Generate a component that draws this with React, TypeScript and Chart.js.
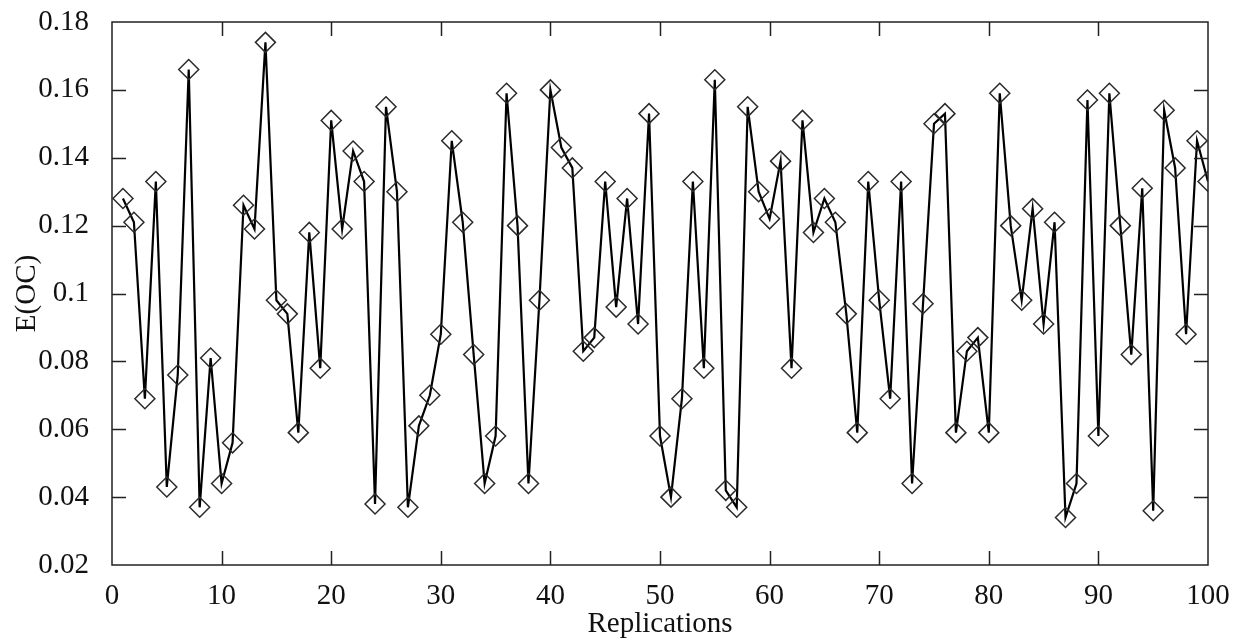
import React, { useEffect, useRef } from "react";
import { Chart, registerables } from "chart.js";

Chart.register(...registerables);

const replications = [
  1, 2, 3, 4, 5, 6, 7, 8, 9, 10, 11, 12, 13, 14, 15, 16, 17, 18, 19, 20,
  21, 22, 23, 24, 25, 26, 27, 28, 29, 30, 31, 32, 33, 34, 35, 36, 37, 38, 39, 40,
  41, 42, 43, 44, 45, 46, 47, 48, 49, 50, 51, 52, 53, 54, 55, 56, 57, 58, 59, 60,
  61, 62, 63, 64, 65, 66, 67, 68, 69, 70, 71, 72, 73, 74, 75, 76, 77, 78, 79, 80,
  81, 82, 83, 84, 85, 86, 87, 88, 89, 90, 91, 92, 93, 94, 95, 96, 97, 98, 99, 100,
];

const eoc = [
  0.128, 0.121, 0.069, 0.133, 0.043, 0.076, 0.166, 0.037, 0.081, 0.044,
  0.056, 0.126, 0.119, 0.174, 0.098, 0.094, 0.059, 0.118, 0.078, 0.151,
  0.119, 0.142, 0.133, 0.038, 0.155, 0.130, 0.037, 0.061, 0.070, 0.088,
  0.145, 0.121, 0.082, 0.044, 0.058, 0.159, 0.120, 0.044, 0.098, 0.160,
  0.143, 0.137, 0.083, 0.087, 0.133, 0.096, 0.128, 0.091, 0.153, 0.058,
  0.040, 0.069, 0.133, 0.078, 0.163, 0.042, 0.037, 0.155, 0.130, 0.122,
  0.139, 0.078, 0.151, 0.118, 0.128, 0.121, 0.094, 0.059, 0.133, 0.098,
  0.069, 0.133, 0.044, 0.097, 0.150, 0.153, 0.059, 0.083, 0.087, 0.059,
  0.159, 0.120, 0.098, 0.125, 0.091, 0.121, 0.034, 0.044, 0.157, 0.058,
  0.159, 0.120, 0.082, 0.131, 0.036, 0.154, 0.137, 0.088, 0.145, 0.133,
];

const xTicks = [0, 10, 20, 30, 40, 50, 60, 70, 80, 90, 100];
const yTicks = [0.02, 0.04, 0.06, 0.08, 0.1, 0.12, 0.14, 0.16, 0.18];

const FONT = "'Liberation Serif', 'DejaVu Serif', serif";
const FONT_SIZE = 29;

const framePlugin = {
  id: "frame",
  afterDatasetsDraw(chart: any) {
    const { ctx, chartArea: a, scales } = chart;
    const x = scales.x;
    const y = scales.y;
    const L = 14;
    ctx.save();
    ctx.strokeStyle = "#222";
    ctx.lineWidth = 1.5;
    ctx.strokeRect(a.left, a.top, a.right - a.left, a.bottom - a.top);
    ctx.beginPath();
    xTicks.slice(1, -1).forEach((v) => {
      const px = Math.round(x.getPixelForValue(v)) + 0.5;
      ctx.moveTo(px, a.bottom);
      ctx.lineTo(px, a.bottom - L);
      ctx.moveTo(px, a.top);
      ctx.lineTo(px, a.top + L);
    });
    yTicks.slice(1, -1).forEach((v) => {
      const py = Math.round(y.getPixelForValue(v)) + 0.5;
      ctx.moveTo(a.left, py);
      ctx.lineTo(a.left + L, py);
      ctx.moveTo(a.right, py);
      ctx.lineTo(a.right - L, py);
    });
    ctx.stroke();
    ctx.restore();
  },
};

export default function App() {
  const canvasRef = useRef<HTMLCanvasElement | null>(null);

  useEffect(() => {
    document.body.style.margin = "0";
    const canvas = canvasRef.current;
    if (!canvas) return;
    const chart = new Chart(canvas, {
      type: "line",
      data: {
        datasets: [
          {
            data: replications.map((r, i) => ({ x: r, y: eoc[i] })),
            borderColor: "#000",
            borderWidth: 2.2,
            tension: 0,
            fill: false,
            pointStyle: "rectRot",
            pointRadius: 10,
            pointBorderWidth: 1.5,
            pointBorderColor: "#2a2a2a",
            pointBackgroundColor: "rgba(0,0,0,0)",
          },
        ],
      },
      options: {
        responsive: false,
        devicePixelRatio: 1,
        animation: false,
        layout: { padding: { top: 22, right: 27, left: 0, bottom: 0 } },
        plugins: {
          legend: { display: false },
          tooltip: { enabled: false },
        },
        scales: {
          x: {
            type: "linear",
            min: 0,
            max: 100,
            grid: { display: false },
            border: { display: false },
            afterBuildTicks: (s: any) => {
              s.ticks = xTicks.map((v) => ({ value: v }));
            },
            afterFit: (s: any) => {
              s.height = 77;
              s.paddingLeft = 0;
              s.paddingRight = 0;
            },
            ticks: {
              color: "#111",
              font: { family: FONT, size: FONT_SIZE },
              padding: 6,
              maxRotation: 0,
              autoSkip: false,
            },
            title: {
              display: true,
              text: "Replications",
              color: "#111",
              font: { family: FONT, size: FONT_SIZE },
              padding: { top: 0, bottom: 0 },
            },
          },
          y: {
            type: "linear",
            min: 0.02,
            max: 0.18,
            grid: { display: false },
            border: { display: false },
            afterBuildTicks: (s: any) => {
              s.ticks = yTicks.map((v) => ({ value: v }));
            },
            afterFit: (s: any) => {
              s.width = 112;
              s.paddingTop = 0;
              s.paddingBottom = 0;
            },
            ticks: {
              color: "#111",
              font: { family: FONT, size: FONT_SIZE },
              padding: 15,
              autoSkip: false,
              callback: (v: any) => String(Number(Number(v).toFixed(2))),
            },
            title: {
              display: true,
              text: "E(OC)",
              color: "#111",
              font: { family: FONT, size: FONT_SIZE },
              padding: { top: 10, bottom: 0 },
            },
          },
        },
      },
      plugins: [framePlugin],
    });
    return () => chart.destroy();
  }, []);

  return (
    <canvas
      ref={canvasRef}
      width={1235}
      height={642}
      style={{ display: "block", width: 1235, height: 642 }}
    />
  );
}
